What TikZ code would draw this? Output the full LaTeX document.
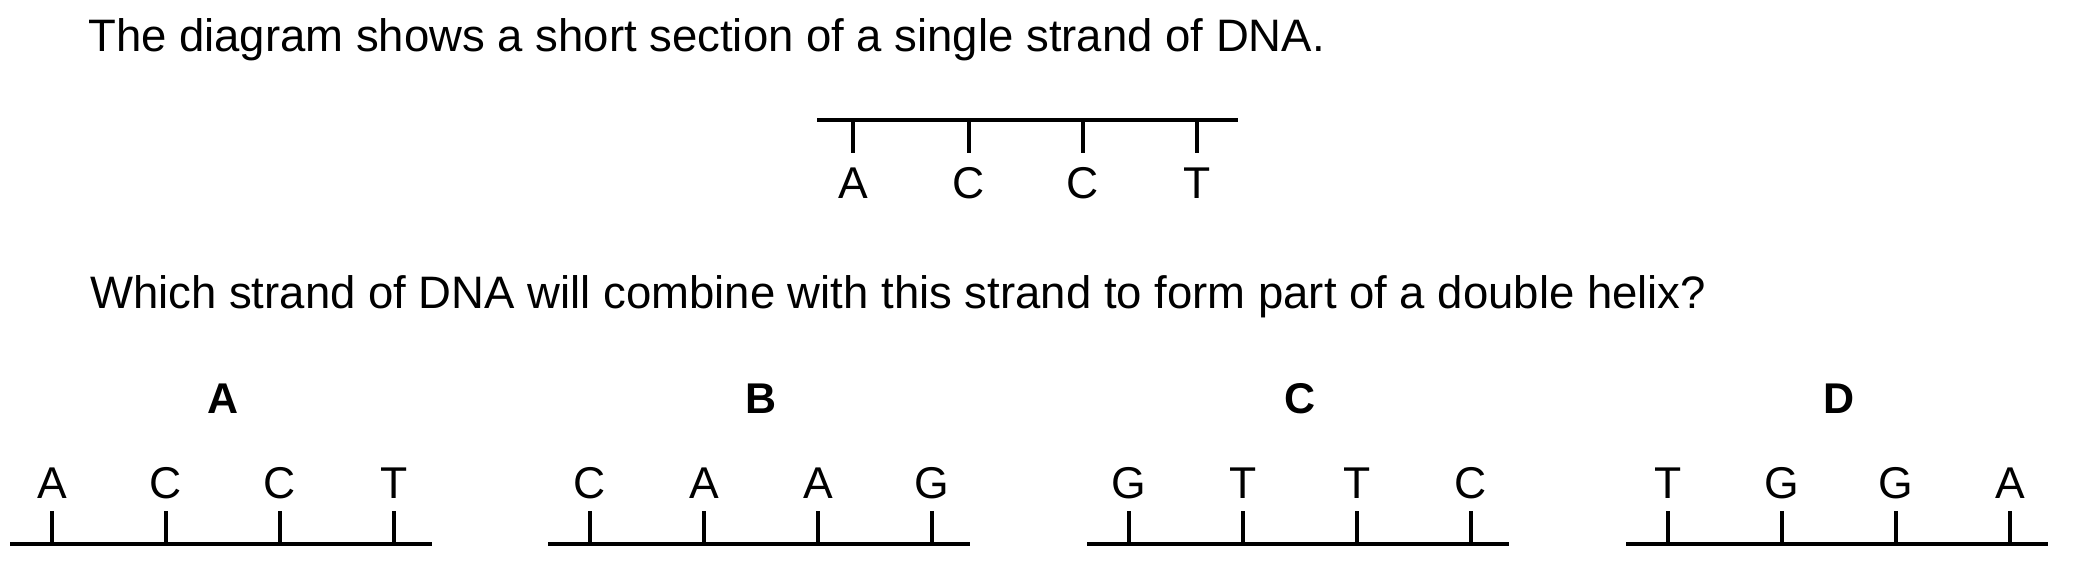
\documentclass[tikz,border=0pt]{standalone}
\usepackage{fontspec}
\setmainfont{Liberation Sans}
\begin{document}
\begin{tikzpicture}[x=1pt,y=-1pt,
  txt/.style={inner sep=0pt,font=\fontsize{45.5}{55}\selectfont},
  base/.style={inner sep=0pt,anchor=base,font=\fontsize{44.5}{52}\selectfont},
  lbl/.style={inner sep=0pt,anchor=base,font=\fontsize{43}{52}\selectfont\bfseries},
  strand/.style={line width=3.5pt},
  tick/.style={line width=3.5pt}]
\useasboundingbox (0,0) rectangle (2100,572);
\node[txt,anchor=base west] (title) at (88,52) {The diagram shows a short section of a single strand of DNA.};
\node[txt,anchor=base west] (question) at (90,308) {Which strand of DNA will combine with this strand to form part of a double helix?};
% given strand
\coordinate (s0) at (817,120);
\coordinate (s1) at (1238,120);
\draw[strand] (s0) -- (s1);
\foreach \i/\x/\b in {1/853/A,2/969/C,3/1083/C,4/1197/T}{
  \coordinate (st\i) at (\x,120);
  \coordinate (sb\i) at (\x,153);
  \draw[tick] (st\i) -- (sb\i);
  \node[base] (sl\i) at (\x,199) {\b};
}
% options
\foreach \o/\xo/\la/\lb/\lc/\ld in {A/52/A/C/C/T, B/590/C/A/A/G, C/1129/G/T/T/C, D/1668/T/G/G/A}{
  \node[lbl] (opt\o) at (\xo+171,413) {\o};
  \coordinate (o\o l) at (\xo-42,544);
  \coordinate (o\o r) at (\xo+380,544);
  \draw[strand] (o\o l) -- (o\o r);
  \foreach \k/\b in {0/\la,1/\lb,2/\lc,3/\ld}{
    \coordinate (o\o t\k) at (\xo+114*\k,511);
    \coordinate (o\o b\k) at (\xo+114*\k,544);
    \draw[tick] (o\o t\k) -- (o\o b\k);
    \node[base] (o\o n\k) at (\xo+114*\k,498) {\b};
  }
}
\end{tikzpicture}
\end{document}
